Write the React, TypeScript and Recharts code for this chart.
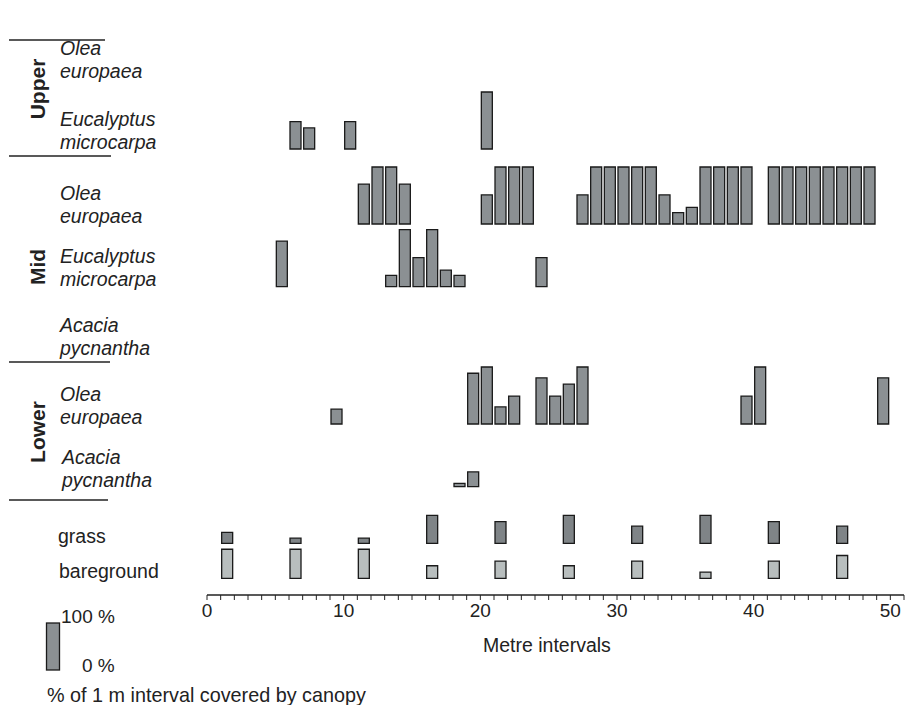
import React from 'react';
import { ComposedChart, Bar, XAxis, YAxis } from 'recharts';

const W = 916;
const H = 705;
const PLOT_LEFT = 207;
const PLOT_RIGHT = 904;
const AXIS_Y = 595;
const PX_PER_PCT = 0.57; // 100 % = 57 px
const FONT = '"Liberation Sans", Arial, sans-serif';

// start of each 1 m interval that has cover, and % of the interval covered
const upperEucAt = [6, 7, 10, 20];
const upperEucPct = [48, 37, 48, 100];

const midOleaAt = [11, 12, 13, 14, 20, 21, 22, 23, 27, 28, 29, 30, 31, 32, 33, 34, 35, 36, 37, 38, 39, 41, 42, 43, 44, 45, 46, 47, 48];
const midOleaPct = [70, 100, 100, 70, 51, 100, 100, 100, 51, 100, 100, 100, 100, 100, 51, 20, 29, 100, 100, 100, 100, 100, 100, 100, 100, 100, 100, 100, 100];

const midEucAt = [5, 13, 14, 15, 16, 17, 18, 24];
const midEucPct = [80, 20, 100, 51, 100, 29, 20, 51];

const lowOleaAt = [9, 19, 20, 21, 22, 24, 25, 26, 27, 39, 40, 49];
const lowOleaPct = [26, 89, 100, 30, 49, 81, 49, 70, 100, 49, 100, 81];

const lowAcaciaAt = [18, 19];
const lowAcaciaPct = [6, 26];

const groundAt = [1, 6, 11, 16, 21, 26, 31, 36, 41, 46];
const grassPct = [19, 9, 9, 49, 38, 49, 30, 49, 38, 30];
const barePct = [51, 51, 51, 22, 30, 22, 30, 11, 30, 40];

const metreTicks = Array.from({ length: 52 }, (_, i) => i);

const DARK = '#8b9093';
const GRASS = '#7f8487';
const LIGHT = '#b8bebe';

const rows = [
  { key: 'upperEuc', at: upperEucAt, pct: upperEucPct, base: 149, fill: DARK },
  { key: 'midOlea', at: midOleaAt, pct: midOleaPct, base: 224, fill: DARK },
  { key: 'midEuc', at: midEucAt, pct: midEucPct, base: 286.7, fill: DARK },
  { key: 'lowOlea', at: lowOleaAt, pct: lowOleaPct, base: 424, fill: DARK },
  { key: 'lowAcacia', at: lowAcaciaAt, pct: lowAcaciaPct, base: 486.7, fill: DARK },
  { key: 'grass', at: groundAt, pct: grassPct, base: 543.3, fill: GRASS },
  { key: 'bare', at: groundAt, pct: barePct, base: 578.3, fill: LIGHT },
];

const data = metreTicks.slice(0, 51).map((i) => {
  const d: Record<string, number | null> = { x: i + 0.5 };
  rows.forEach((r) => {
    const k = r.at.indexOf(i);
    d[r.key] = k >= 0 ? r.pct[k] : null;
  });
  return d;
});

const MetreTick = (props: any) => {
  const { x, payload } = props;
  if (payload.value % 10 !== 0) return <g />;
  return (
    <text x={x} y={617} textAnchor="middle" fontSize={19} fontFamily={FONT} fill="#222">
      {payload.value}
    </text>
  );
};

const labels = [
  { lines: ['Olea', 'europaea'], base: 78, x: 60 },
  { lines: ['Eucalyptus', 'microcarpa'], base: 149, x: 60 },
  { lines: ['Olea', 'europaea'], base: 223, x: 60 },
  { lines: ['Eucalyptus', 'microcarpa'], base: 286, x: 60 },
  { lines: ['Acacia', 'pycnantha'], base: 355, x: 60 },
  { lines: ['Olea', 'europaea'], base: 424, x: 60 },
  { lines: ['Acacia', 'pycnantha'], base: 487, x: 62 },
];

const groups = [
  { name: 'Upper', y: 89 },
  { name: 'Mid', y: 267 },
  { name: 'Lower', y: 432 },
];

const separators = [
  { y: 40, x2: 105 },
  { y: 156, x2: 111 },
  { y: 362, x2: 110 },
  { y: 500, x2: 108 },
];

export default function App() {
  return (
    <div style={{ position: 'absolute', left: 0, top: 0, width: W, height: H, background: '#fff' }}>
      <ComposedChart
        width={W}
        height={H}
        data={data}
        margin={{ top: 0, right: W - PLOT_RIGHT, bottom: H - AXIS_Y - 30, left: PLOT_LEFT }}
      >
        <XAxis
          xAxisId="axis"
          dataKey="x"
          type="number"
          domain={[0, 51]}
          ticks={metreTicks}
          interval={0}
          height={30}
          tick={<MetreTick />}
          tickSize={5}
          tickLine={{ stroke: '#222', strokeWidth: 1 }}
          axisLine={{ stroke: '#222', strokeWidth: 1.5 }}
        />
        {rows.map((r) => (
          <XAxis
            key={'x' + r.key}
            xAxisId={r.key}
            dataKey="x"
            type="number"
            domain={[0, 51]}
            ticks={metreTicks}
            hide
          />
        ))}
        {rows.map((r) => (
          <YAxis
            key={'y' + r.key}
            yAxisId={r.key}
            type="number"
            domain={[(r.base - AXIS_Y) / PX_PER_PCT, r.base / PX_PER_PCT]}
            allowDataOverflow
            hide
          />
        ))}
        {rows.map((r) => (
          <Bar
            key={r.key}
            dataKey={r.key}
            xAxisId={r.key}
            yAxisId={r.key}
            barSize={11}
            fill={r.fill}
            stroke="#1a1a1a"
            strokeWidth={1.3}
            isAnimationActive={false}
          />
        ))}
      </ComposedChart>

      <svg
        width={W}
        height={H}
        style={{ position: 'absolute', left: 0, top: 0, pointerEvents: 'none' }}
        fontFamily={FONT}
      >
        {separators.map((s, i) => (
          <line key={i} x1={9} x2={s.x2} y1={s.y} y2={s.y} stroke="#222" strokeWidth={1.3} />
        ))}
        {groups.map((g) => (
          <text
            key={g.name}
            x={0}
            y={0}
            transform={`translate(45, ${g.y}) rotate(-90)`}
            textAnchor="middle"
            fontSize={21}
            fontWeight="bold"
            fill="#222"
          >
            {g.name}
          </text>
        ))}
        {labels.map((l, i) => (
          <g key={i} fontStyle="italic" fontSize={19.5} fill="#222">
            <text x={l.x} y={l.base - 23}>{l.lines[0]}</text>
            <text x={l.x} y={l.base}>{l.lines[1]}</text>
          </g>
        ))}
        <text x={58} y={543} fontSize={19.5} fill="#222">grass</text>
        <text x={59} y={578} fontSize={19.5} fill="#222">bareground</text>

        <rect x={46.5} y={623} width={13} height={47} fill={DARK} stroke="#1a1a1a" strokeWidth={1.3} />
        <text x={61} y={622.5} fontSize={19} fill="#222">100 %</text>
        <text x={82} y={671.5} fontSize={19} fill="#222">0 %</text>
        <text x={47} y={702} fontSize={19.8} fill="#222">% of 1 m interval covered by canopy</text>
        <text x={483} y={651.7} fontSize={19.5} fill="#222">Metre intervals</text>
      </svg>
    </div>
  );
}
